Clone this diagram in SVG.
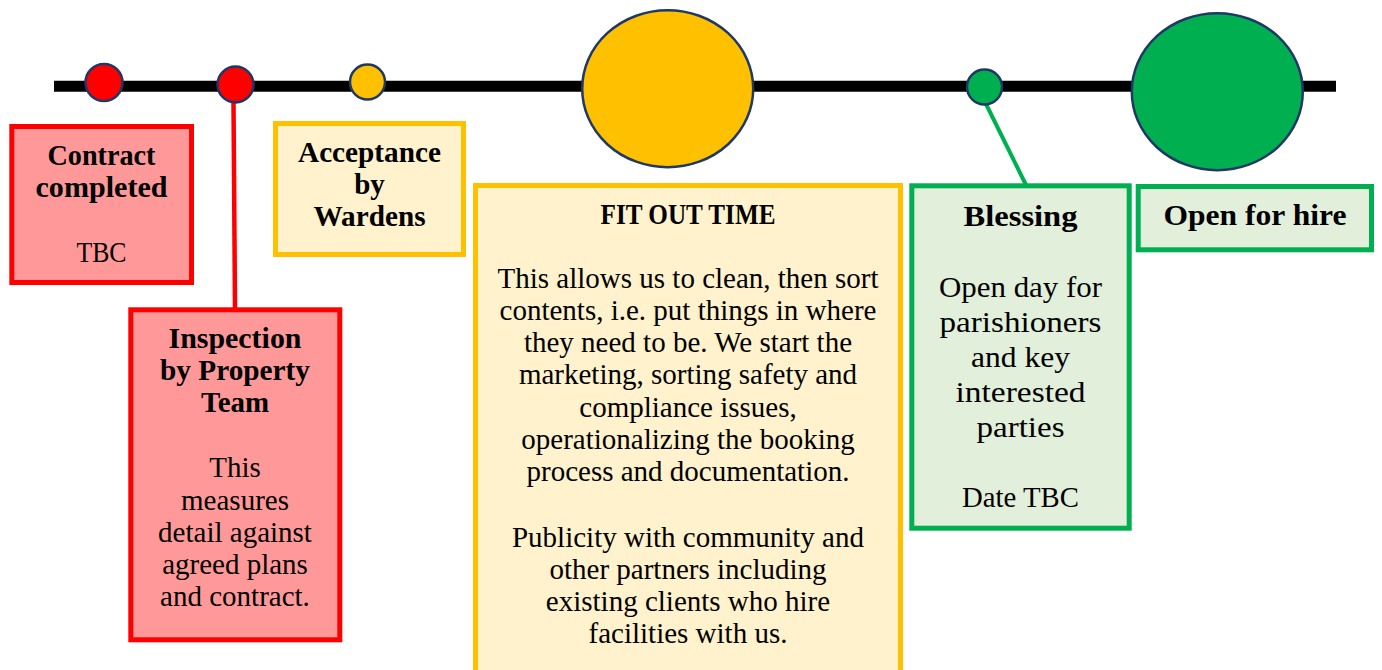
<svg xmlns="http://www.w3.org/2000/svg" width="1382" height="670" viewBox="0 0 1382 670">
<style>
  text { font-family: "Liberation Serif", "Times New Roman", serif; fill: #000; text-anchor: middle; }
  .b { font-weight: bold; font-size: 29px; }
  .r { font-size: 29px; }
  .red { fill: #FF9999; stroke: #FF0000; stroke-width: 5; }
  .yel { fill: #FFF2CC; stroke: #FFC000; stroke-width: 5; }
  .grn { fill: #E2EFDA; stroke: #00B050; stroke-width: 5; }
  .dot { stroke: #1F3864; stroke-width: 2.5; }
</style>
<rect width="1382" height="670" fill="#FFFFFF"/>
<g id="timeline">
  <line x1="54" y1="86.3" x2="1336" y2="86.3" stroke="#000" stroke-width="11"/>
</g>
<g id="connectors">
  <line x1="233.5" y1="102" x2="235" y2="309" stroke="#FF0000" stroke-width="4.5"/>
  <line x1="986" y1="104" x2="1026" y2="185" stroke="#00B050" stroke-width="4"/>
</g>
<g id="m1"><circle class="dot" cx="104" cy="82.5" r="18.5" fill="#FF0000"/></g>
<g id="m2"><circle class="dot" cx="235.5" cy="84.5" r="18" fill="#FF0000"/></g>
<g id="m3"><circle class="dot" cx="367.5" cy="82" r="17.5" fill="#FFC000"/></g>
<g id="m4"><ellipse class="dot" cx="667.7" cy="88.7" rx="85.5" ry="78.5" fill="#FFC000"/></g>
<g id="m5"><circle class="dot" cx="984.5" cy="87" r="17.5" fill="#00B050"/></g>
<g id="m6"><ellipse class="dot" cx="1217.3" cy="91.7" rx="85.5" ry="78.5" fill="#00B050"/></g>

<g id="contract">
  <rect class="red" x="11.8" y="126.5" width="179.7" height="156"/>
  <text class="b" x="101.5" y="165" textLength="108" lengthAdjust="spacingAndGlyphs">Contract</text>
  <text class="b" x="101.5" y="197" textLength="132" lengthAdjust="spacingAndGlyphs">completed</text>
  <text class="r" x="101.5" y="262" textLength="50" lengthAdjust="spacingAndGlyphs">TBC</text>
</g>
<g id="acceptance">
  <rect class="yel" x="275.5" y="123.5" width="188" height="131"/>
  <text class="b" x="369.5" y="162" textLength="143" lengthAdjust="spacingAndGlyphs">Acceptance</text>
  <text class="b" x="369.5" y="194">by</text>
  <text class="b" x="369.5" y="226" textLength="112" lengthAdjust="spacingAndGlyphs">Wardens</text>
</g>
<g id="inspection">
  <rect class="red" x="130.8" y="309.8" width="209" height="330"/>
  <text class="b" x="235" y="348" textLength="133" lengthAdjust="spacingAndGlyphs">Inspection</text>
  <text class="b" x="235" y="380" textLength="150" lengthAdjust="spacingAndGlyphs">by Property</text>
  <text class="b" x="235" y="412" textLength="68" lengthAdjust="spacingAndGlyphs">Team</text>
  <text class="r" x="235" y="477">This</text>
  <text class="r" x="235" y="510">measures</text>
  <text class="r" x="235" y="541.5">detail against</text>
  <text class="r" x="235" y="573.5">agreed plans</text>
  <text class="r" x="235" y="605.5">and contract.</text>
</g>
<g id="fitout">
  <rect class="yel" x="475.5" y="185.5" width="425" height="500"/>
  <text class="b" x="688" y="224" font-size="27" textLength="175" lengthAdjust="spacingAndGlyphs">FIT OUT TIME</text>
  <text class="r" x="688" y="288">This allows us to clean, then sort</text>
  <text class="r" x="688" y="320">contents, i.e. put things in where</text>
  <text class="r" x="688" y="352">they need to be. We start the</text>
  <text class="r" x="688" y="384">marketing, sorting safety and</text>
  <text class="r" x="688" y="416.5">compliance issues,</text>
  <text class="r" x="688" y="448.5">operationalizing the booking</text>
  <text class="r" x="688" y="480.5">process and documentation.</text>
  <text class="r" x="688" y="546.5">Publicity with community and</text>
  <text class="r" x="688" y="578.5">other partners including</text>
  <text class="r" x="688" y="610.5">existing clients who hire</text>
  <text class="r" x="688" y="642.5">facilities with us.</text>
</g>
<g id="blessing">
  <rect class="grn" x="911.8" y="185.8" width="217.4" height="342.4"/>
  <text class="b" x="1020.5" y="226" font-size="32" textLength="114" lengthAdjust="spacingAndGlyphs">Blessing</text>
  <text class="r" x="1020.5" y="297" font-size="33" textLength="163" lengthAdjust="spacingAndGlyphs">Open day for</text>
  <text class="r" x="1020.5" y="332" font-size="33" textLength="162" lengthAdjust="spacingAndGlyphs">parishioners</text>
  <text class="r" x="1020.5" y="367" font-size="33" textLength="99" lengthAdjust="spacingAndGlyphs">and key</text>
  <text class="r" x="1020.5" y="402" font-size="33" textLength="130" lengthAdjust="spacingAndGlyphs">interested</text>
  <text class="r" x="1020.5" y="437" font-size="33" textLength="88" lengthAdjust="spacingAndGlyphs">parties</text>
  <text class="r" x="1020.5" y="507" font-size="32" textLength="117" lengthAdjust="spacingAndGlyphs">Date TBC</text>
</g>
<g id="openforhire">
  <rect class="grn" x="1138.2" y="186.5" width="233.3" height="63.3"/>
  <text class="b" x="1255" y="225" font-size="31" textLength="183" lengthAdjust="spacingAndGlyphs">Open for hire</text>
</g>
</svg>
